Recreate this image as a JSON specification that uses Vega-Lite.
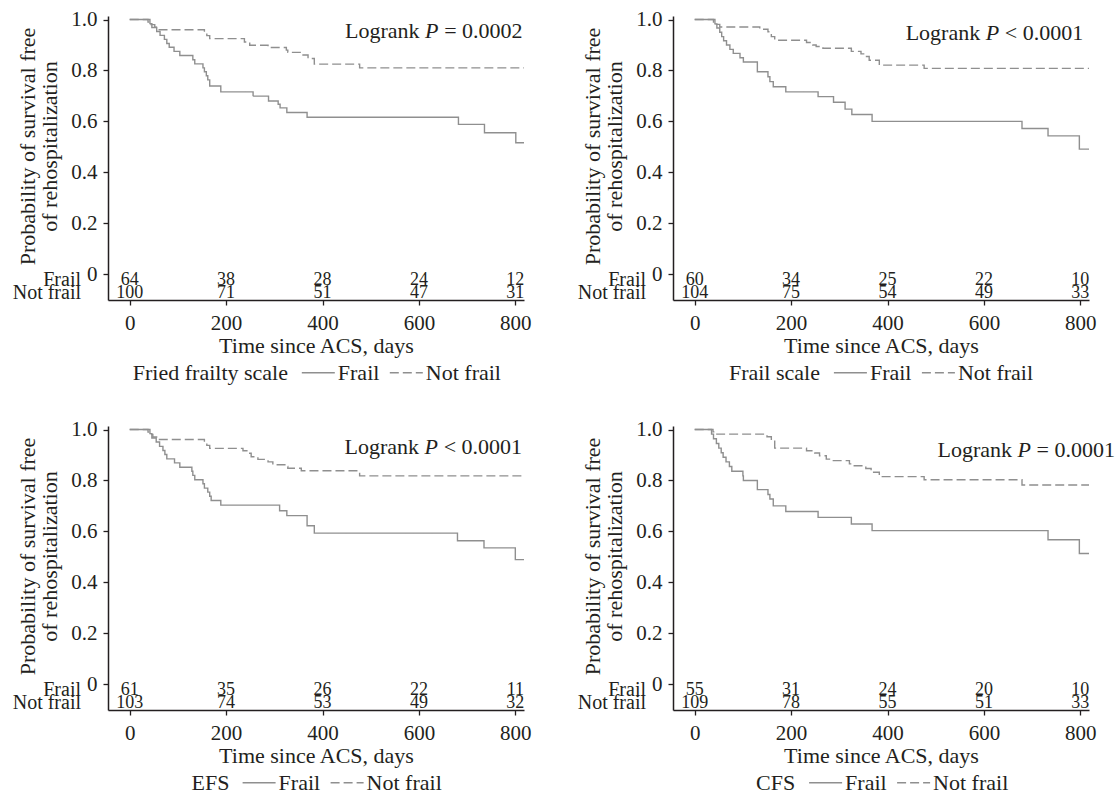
{
 "$schema": "https://vega.github.io/schema/vega-lite/v6.json",
 "autosize": {"type": "none"},
 "padding": {"left": 108, "top": 16, "right": 1012, "bottom": 783},
 "background": "white",
 "config": {
  "font": "Liberation Serif",
  "view": {"stroke": null},
  "axis": {"domainColor": "#231f20", "domainWidth": 1.5, "tickColor": "#231f20", "tickWidth": 1.3, "tickSize": 5, "labelColor": "#231f20", "labelFontSize": 21, "labelFont": "Liberation Serif", "titleColor": "#231f20", "titleFontSize": 22, "titleFont": "Liberation Serif", "titleFontWeight": "normal", "grid": false, "labelFlush": false, "labelOverlap": false},
  "legend": {"labelFontSize": 22, "titleFontSize": 22, "labelFont": "Liberation Serif", "titleFont": "Liberation Serif", "titleFontWeight": "normal", "labelColor": "#231f20", "titleColor": "#231f20", "symbolType": "stroke", "symbolSize": 1089, "symbolStrokeWidth": 1.3, "symbolStrokeColor": "#8f8f8f", "labelOffset": 2, "columnPadding": 7, "titlePadding": 12, "titleOrient": "left", "direction": "horizontal", "titleAnchor": "middle", "titleBaseline": "line-top", "titleLineHeight": 9.2, "titleLimit": 400, "labelLimit": 300},
  "text": {"color": "#231f20", "font": "Liberation Serif"}
 },
 "datasets": {
  "km": [
   {"p":1,"g":"Frail","t":0,"s":1},{"p":1,"g":"Frail","t":42,"s":0.984},{"p":1,"g":"Frail","t":46,"s":0.969},{"p":1,"g":"Frail","t":56,"s":0.953},{"p":1,"g":"Frail","t":63,"s":0.938},{"p":1,"g":"Frail","t":72,"s":0.922},{"p":1,"g":"Frail","t":77,"s":0.906},{"p":1,"g":"Frail","t":82,"s":0.891},{"p":1,"g":"Frail","t":92,"s":0.875},{"p":1,"g":"Frail","t":104,"s":0.859},{"p":1,"g":"Frail","t":131,"s":0.842},{"p":1,"g":"Frail","t":135,"s":0.826},{"p":1,"g":"Frail","t":152,"s":0.81},{"p":1,"g":"Frail","t":155,"s":0.795},{"p":1,"g":"Frail","t":159,"s":0.779},{"p":1,"g":"Frail","t":162,"s":0.763},{"p":1,"g":"Frail","t":166,"s":0.739},{"p":1,"g":"Frail","t":189,"s":0.716},{"p":1,"g":"Frail","t":256,"s":0.699},{"p":1,"g":"Frail","t":288,"s":0.68},{"p":1,"g":"Frail","t":308,"s":0.667},{"p":1,"g":"Frail","t":312,"s":0.653},{"p":1,"g":"Frail","t":326,"s":0.635},{"p":1,"g":"Frail","t":368,"s":0.616},{"p":1,"g":"Frail","t":682,"s":0.588},{"p":1,"g":"Frail","t":736,"s":0.555},{"p":1,"g":"Frail","t":801,"s":0.516},{"p":1,"g":"Frail","t":818,"s":0.516},
   {"p":1,"g":"Not frail","t":0,"s":1},{"p":1,"g":"Not frail","t":38,"s":0.99},{"p":1,"g":"Not frail","t":44,"s":0.98},{"p":1,"g":"Not frail","t":52,"s":0.97},{"p":1,"g":"Not frail","t":59,"s":0.96},{"p":1,"g":"Not frail","t":155,"s":0.948},{"p":1,"g":"Not frail","t":160,"s":0.937},{"p":1,"g":"Not frail","t":166,"s":0.925},{"p":1,"g":"Not frail","t":238,"s":0.912},{"p":1,"g":"Not frail","t":249,"s":0.899},{"p":1,"g":"Not frail","t":287,"s":0.89},{"p":1,"g":"Not frail","t":325,"s":0.88},{"p":1,"g":"Not frail","t":328,"s":0.871},{"p":1,"g":"Not frail","t":356,"s":0.861},{"p":1,"g":"Not frail","t":370,"s":0.847},{"p":1,"g":"Not frail","t":383,"s":0.825},{"p":1,"g":"Not frail","t":477,"s":0.81},{"p":1,"g":"Not frail","t":818,"s":0.81},
   {"p":2,"g":"Frail","t":0,"s":1},{"p":2,"g":"Frail","t":42,"s":0.983},{"p":2,"g":"Frail","t":46,"s":0.967},{"p":2,"g":"Frail","t":52,"s":0.95},{"p":2,"g":"Frail","t":56,"s":0.933},{"p":2,"g":"Frail","t":60,"s":0.917},{"p":2,"g":"Frail","t":66,"s":0.9},{"p":2,"g":"Frail","t":73,"s":0.883},{"p":2,"g":"Frail","t":80,"s":0.867},{"p":2,"g":"Frail","t":94,"s":0.85},{"p":2,"g":"Frail","t":101,"s":0.833},{"p":2,"g":"Frail","t":130,"s":0.795},{"p":2,"g":"Frail","t":152,"s":0.775},{"p":2,"g":"Frail","t":156,"s":0.756},{"p":2,"g":"Frail","t":163,"s":0.736},{"p":2,"g":"Frail","t":189,"s":0.716},{"p":2,"g":"Frail","t":256,"s":0.697},{"p":2,"g":"Frail","t":288,"s":0.675},{"p":2,"g":"Frail","t":312,"s":0.648},{"p":2,"g":"Frail","t":326,"s":0.627},{"p":2,"g":"Frail","t":368,"s":0.6},{"p":2,"g":"Frail","t":679,"s":0.572},{"p":2,"g":"Frail","t":733,"s":0.543},{"p":2,"g":"Frail","t":798,"s":0.491},{"p":2,"g":"Frail","t":818,"s":0.491},
   {"p":2,"g":"Not frail","t":0,"s":1},{"p":2,"g":"Not frail","t":39,"s":0.99},{"p":2,"g":"Not frail","t":45,"s":0.981},{"p":2,"g":"Not frail","t":52,"s":0.971},{"p":2,"g":"Not frail","t":135,"s":0.962},{"p":2,"g":"Not frail","t":152,"s":0.952},{"p":2,"g":"Not frail","t":159,"s":0.933},{"p":2,"g":"Not frail","t":166,"s":0.919},{"p":2,"g":"Not frail","t":232,"s":0.91},{"p":2,"g":"Not frail","t":245,"s":0.9},{"p":2,"g":"Not frail","t":252,"s":0.894},{"p":2,"g":"Not frail","t":266,"s":0.887},{"p":2,"g":"Not frail","t":325,"s":0.875},{"p":2,"g":"Not frail","t":345,"s":0.865},{"p":2,"g":"Not frail","t":352,"s":0.855},{"p":2,"g":"Not frail","t":362,"s":0.84},{"p":2,"g":"Not frail","t":383,"s":0.821},{"p":2,"g":"Not frail","t":476,"s":0.808},{"p":2,"g":"Not frail","t":818,"s":0.808},
   {"p":3,"g":"Frail","t":0,"s":1},{"p":3,"g":"Frail","t":42,"s":0.984},{"p":3,"g":"Frail","t":46,"s":0.967},{"p":3,"g":"Frail","t":55,"s":0.951},{"p":3,"g":"Frail","t":62,"s":0.934},{"p":3,"g":"Frail","t":69,"s":0.918},{"p":3,"g":"Frail","t":73,"s":0.902},{"p":3,"g":"Frail","t":77,"s":0.885},{"p":3,"g":"Frail","t":93,"s":0.869},{"p":3,"g":"Frail","t":104,"s":0.852},{"p":3,"g":"Frail","t":129,"s":0.836},{"p":3,"g":"Frail","t":131,"s":0.82},{"p":3,"g":"Frail","t":135,"s":0.803},{"p":3,"g":"Frail","t":152,"s":0.787},{"p":3,"g":"Frail","t":155,"s":0.77},{"p":3,"g":"Frail","t":162,"s":0.754},{"p":3,"g":"Frail","t":166,"s":0.738},{"p":3,"g":"Frail","t":169,"s":0.721},{"p":3,"g":"Frail","t":189,"s":0.703},{"p":3,"g":"Frail","t":311,"s":0.681},{"p":3,"g":"Frail","t":326,"s":0.662},{"p":3,"g":"Frail","t":368,"s":0.622},{"p":3,"g":"Frail","t":383,"s":0.593},{"p":3,"g":"Frail","t":680,"s":0.563},{"p":3,"g":"Frail","t":735,"s":0.535},{"p":3,"g":"Frail","t":800,"s":0.489},{"p":3,"g":"Frail","t":818,"s":0.489},
   {"p":3,"g":"Not frail","t":0,"s":1},{"p":3,"g":"Not frail","t":38,"s":0.99},{"p":3,"g":"Not frail","t":42,"s":0.981},{"p":3,"g":"Not frail","t":48,"s":0.971},{"p":3,"g":"Not frail","t":59,"s":0.961},{"p":3,"g":"Not frail","t":155,"s":0.951},{"p":3,"g":"Not frail","t":160,"s":0.938},{"p":3,"g":"Not frail","t":166,"s":0.926},{"p":3,"g":"Not frail","t":235,"s":0.917},{"p":3,"g":"Not frail","t":245,"s":0.907},{"p":3,"g":"Not frail","t":252,"s":0.893},{"p":3,"g":"Not frail","t":266,"s":0.883},{"p":3,"g":"Not frail","t":287,"s":0.873},{"p":3,"g":"Not frail","t":297,"s":0.862},{"p":3,"g":"Not frail","t":325,"s":0.855},{"p":3,"g":"Not frail","t":328,"s":0.848},{"p":3,"g":"Not frail","t":356,"s":0.838},{"p":3,"g":"Not frail","t":477,"s":0.818},{"p":3,"g":"Not frail","t":818,"s":0.818},
   {"p":4,"g":"Frail","t":0,"s":1},{"p":4,"g":"Frail","t":35,"s":0.982},{"p":4,"g":"Frail","t":39,"s":0.964},{"p":4,"g":"Frail","t":45,"s":0.945},{"p":4,"g":"Frail","t":50,"s":0.927},{"p":4,"g":"Frail","t":55,"s":0.909},{"p":4,"g":"Frail","t":59,"s":0.891},{"p":4,"g":"Frail","t":65,"s":0.873},{"p":4,"g":"Frail","t":72,"s":0.855},{"p":4,"g":"Frail","t":77,"s":0.836},{"p":4,"g":"Frail","t":100,"s":0.818},{"p":4,"g":"Frail","t":101,"s":0.8},{"p":4,"g":"Frail","t":130,"s":0.764},{"p":4,"g":"Frail","t":152,"s":0.745},{"p":4,"g":"Frail","t":156,"s":0.727},{"p":4,"g":"Frail","t":163,"s":0.7},{"p":4,"g":"Frail","t":189,"s":0.678},{"p":4,"g":"Frail","t":256,"s":0.655},{"p":4,"g":"Frail","t":325,"s":0.629},{"p":4,"g":"Frail","t":368,"s":0.603},{"p":4,"g":"Frail","t":733,"s":0.567},{"p":4,"g":"Frail","t":798,"s":0.513},{"p":4,"g":"Frail","t":818,"s":0.513},
   {"p":4,"g":"Not frail","t":0,"s":1},{"p":4,"g":"Not frail","t":38,"s":0.991},{"p":4,"g":"Not frail","t":46,"s":0.982},{"p":4,"g":"Not frail","t":150,"s":0.972},{"p":4,"g":"Not frail","t":159,"s":0.954},{"p":4,"g":"Not frail","t":166,"s":0.927},{"p":4,"g":"Not frail","t":232,"s":0.917},{"p":4,"g":"Not frail","t":249,"s":0.908},{"p":4,"g":"Not frail","t":259,"s":0.897},{"p":4,"g":"Not frail","t":273,"s":0.884},{"p":4,"g":"Not frail","t":286,"s":0.878},{"p":4,"g":"Not frail","t":321,"s":0.865},{"p":4,"g":"Not frail","t":328,"s":0.858},{"p":4,"g":"Not frail","t":355,"s":0.847},{"p":4,"g":"Not frail","t":366,"s":0.832},{"p":4,"g":"Not frail","t":383,"s":0.815},{"p":4,"g":"Not frail","t":476,"s":0.803},{"p":4,"g":"Not frail","t":679,"s":0.782},{"p":4,"g":"Not frail","t":818,"s":0.782}
  ],
  "risk": [
   {"p":1,"g":"Frail","t":0,"n":64},{"p":1,"g":"Frail","t":200,"n":38},{"p":1,"g":"Frail","t":400,"n":28},{"p":1,"g":"Frail","t":600,"n":24},{"p":1,"g":"Frail","t":800,"n":12},
   {"p":1,"g":"Not frail","t":0,"n":100},{"p":1,"g":"Not frail","t":200,"n":71},{"p":1,"g":"Not frail","t":400,"n":51},{"p":1,"g":"Not frail","t":600,"n":47},{"p":1,"g":"Not frail","t":800,"n":31},
   {"p":2,"g":"Frail","t":0,"n":60},{"p":2,"g":"Frail","t":200,"n":34},{"p":2,"g":"Frail","t":400,"n":25},{"p":2,"g":"Frail","t":600,"n":22},{"p":2,"g":"Frail","t":800,"n":10},
   {"p":2,"g":"Not frail","t":0,"n":104},{"p":2,"g":"Not frail","t":200,"n":75},{"p":2,"g":"Not frail","t":400,"n":54},{"p":2,"g":"Not frail","t":600,"n":49},{"p":2,"g":"Not frail","t":800,"n":33},
   {"p":3,"g":"Frail","t":0,"n":61},{"p":3,"g":"Frail","t":200,"n":35},{"p":3,"g":"Frail","t":400,"n":26},{"p":3,"g":"Frail","t":600,"n":22},{"p":3,"g":"Frail","t":800,"n":11},
   {"p":3,"g":"Not frail","t":0,"n":103},{"p":3,"g":"Not frail","t":200,"n":74},{"p":3,"g":"Not frail","t":400,"n":53},{"p":3,"g":"Not frail","t":600,"n":49},{"p":3,"g":"Not frail","t":800,"n":32},
   {"p":4,"g":"Frail","t":0,"n":55},{"p":4,"g":"Frail","t":200,"n":31},{"p":4,"g":"Frail","t":400,"n":24},{"p":4,"g":"Frail","t":600,"n":20},{"p":4,"g":"Frail","t":800,"n":10},
   {"p":4,"g":"Not frail","t":0,"n":109},{"p":4,"g":"Not frail","t":200,"n":78},{"p":4,"g":"Not frail","t":400,"n":55},{"p":4,"g":"Not frail","t":600,"n":51},{"p":4,"g":"Not frail","t":800,"n":33}
  ],
  "lr": [
   {"p":1,"a":"Logrank","b":"P","c":"= 0.0002"},
   {"p":2,"a":"Logrank","b":"P","c":"< 0.0001"},
   {"p":3,"a":"Logrank","b":"P","c":"< 0.0001"},
   {"p":4,"a":"Logrank","b":"P","c":"= 0.0001"}
  ]
 },
 "columns": 2,
 "spacing": {"row": 126, "column": 149},
 "bounds": "flush",
 "resolve": {"scale": {"strokeDash": "independent", "x": "independent", "y": "independent"}, "legend": {"strokeDash": "independent"}},
 "concat": [
  {
   "width": 416, "height": 284,
   "layer": [
    {"data": {"name": "km"}, "transform": [{"filter": "datum.p == 1"}],
     "mark": {"type": "line", "interpolate": "step-after", "strokeWidth": 1.4, "color": "#8f8f8f"},
     "encoding": {
      "x": {"field": "t", "type": "quantitative", "scale": {"domain": [-45, 818], "nice": false, "zero": false}, "axis": {"title": "Time since ACS, days", "values": [0, 200, 400, 600, 800], "labelPadding": 7, "titleBaseline": "alphabetic", "titleY": 52.8}},
      "y": {"field": "s", "type": "quantitative", "scale": {"domain": [-0.102, 1.014], "nice": false, "zero": false}, "axis": {"title": ["Probability of survival free", "of rehospitalization"], "values": [0, 0.2, 0.4, 0.6, 0.8, 1], "labelExpr": "datum.value == 0 ? '0' : format(datum.value, '.1f')", "labelPadding": 6, "titleBaseline": "alphabetic", "titleAlign": "center", "titleX": -74, "titleY": 130, "titleLineHeight": 22.4}},
      "strokeDash": {"field": "g", "type": "nominal", "scale": {"domain": ["Frail", "Not frail"], "range": [[1, 0], [9, 4]]}, "legend": {"title": "Fried frailty scale", "orient": "none", "legendX": 24.8, "legendY": 339}}
     }},
    {"data": {"name": "risk"}, "transform": [{"filter": "datum.p == 1 && datum.g == 'Frail'"}],
     "mark": {"type": "text", "fontSize": 18, "baseline": "middle"},
     "encoding": {"x": {"field": "t", "type": "quantitative"}, "y": {"datum": -0.023, "type": "quantitative"}, "text": {"field": "n"}}},
    {"data": {"name": "risk"}, "transform": [{"filter": "datum.p == 1 && datum.g == 'Not frail'"}],
     "mark": {"type": "text", "fontSize": 18, "baseline": "middle"},
     "encoding": {"x": {"field": "t", "type": "quantitative"}, "y": {"datum": -0.076, "type": "quantitative"}, "text": {"field": "n"}}},
    {"data": {"name": "risk"}, "transform": [{"filter": "datum.p == 1 && datum.t == 0 && datum.g == 'Frail'"}],
     "mark": {"type": "text", "fontSize": 20, "baseline": "middle", "align": "right", "dx": -27},
     "encoding": {"x": {"datum": -45, "type": "quantitative"}, "y": {"datum": -0.023, "type": "quantitative"}, "text": {"field": "g"}}},
    {"data": {"name": "risk"}, "transform": [{"filter": "datum.p == 1 && datum.t == 0 && datum.g == 'Not frail'"}],
     "mark": {"type": "text", "fontSize": 20, "baseline": "middle", "align": "right", "dx": -27},
     "encoding": {"x": {"datum": -45, "type": "quantitative"}, "y": {"datum": -0.076, "type": "quantitative"}, "text": {"field": "g"}}},
    {"data": {"name": "lr"}, "transform": [{"filter": "datum.p == 1"}],
     "mark": {"type": "text", "fontSize": 22, "baseline": "middle", "align": "right"},
     "encoding": {"x": {"datum": 815, "type": "quantitative"}, "y": {"datum": 0.956, "type": "quantitative"}, "text": {"field": "c"}}},
    {"data": {"name": "lr"}, "transform": [{"filter": "datum.p == 1"}],
     "mark": {"type": "text", "fontSize": 22, "baseline": "middle", "align": "right", "fontStyle": "italic", "dx": -84},
     "encoding": {"x": {"datum": 815, "type": "quantitative"}, "y": {"datum": 0.956, "type": "quantitative"}, "text": {"field": "b"}}},
    {"data": {"name": "lr"}, "transform": [{"filter": "datum.p == 1"}],
     "mark": {"type": "text", "fontSize": 22, "baseline": "middle", "align": "right", "dx": -103},
     "encoding": {"x": {"datum": 815, "type": "quantitative"}, "y": {"datum": 0.956, "type": "quantitative"}, "text": {"field": "a"}}}
   ]
  },
  {
   "width": 416, "height": 284,
   "layer": [
    {"data": {"name": "km"}, "transform": [{"filter": "datum.p == 2"}],
     "mark": {"type": "line", "interpolate": "step-after", "strokeWidth": 1.4, "color": "#8f8f8f"},
     "encoding": {
      "x": {"field": "t", "type": "quantitative", "scale": {"domain": [-45, 818], "nice": false, "zero": false}, "axis": {"title": "Time since ACS, days", "values": [0, 200, 400, 600, 800], "labelPadding": 7, "titleBaseline": "alphabetic", "titleY": 52.8}},
      "y": {"field": "s", "type": "quantitative", "scale": {"domain": [-0.102, 1.014], "nice": false, "zero": false}, "axis": {"title": ["Probability of survival free", "of rehospitalization"], "values": [0, 0.2, 0.4, 0.6, 0.8, 1], "labelExpr": "datum.value == 0 ? '0' : format(datum.value, '.1f')", "labelPadding": 6, "titleBaseline": "alphabetic", "titleAlign": "center", "titleX": -74, "titleY": 130, "titleLineHeight": 22.4}},
      "strokeDash": {"field": "g", "type": "nominal", "scale": {"domain": ["Frail", "Not frail"], "range": [[1, 0], [9, 4]]}, "legend": {"title": "Frail scale", "orient": "none", "legendX": 55.9, "legendY": 339}}
     }},
    {"data": {"name": "risk"}, "transform": [{"filter": "datum.p == 2 && datum.g == 'Frail'"}],
     "mark": {"type": "text", "fontSize": 18, "baseline": "middle"},
     "encoding": {"x": {"field": "t", "type": "quantitative"}, "y": {"datum": -0.023, "type": "quantitative"}, "text": {"field": "n"}}},
    {"data": {"name": "risk"}, "transform": [{"filter": "datum.p == 2 && datum.g == 'Not frail'"}],
     "mark": {"type": "text", "fontSize": 18, "baseline": "middle"},
     "encoding": {"x": {"field": "t", "type": "quantitative"}, "y": {"datum": -0.076, "type": "quantitative"}, "text": {"field": "n"}}},
    {"data": {"name": "risk"}, "transform": [{"filter": "datum.p == 2 && datum.t == 0 && datum.g == 'Frail'"}],
     "mark": {"type": "text", "fontSize": 20, "baseline": "middle", "align": "right", "dx": -27},
     "encoding": {"x": {"datum": -45, "type": "quantitative"}, "y": {"datum": -0.023, "type": "quantitative"}, "text": {"field": "g"}}},
    {"data": {"name": "risk"}, "transform": [{"filter": "datum.p == 2 && datum.t == 0 && datum.g == 'Not frail'"}],
     "mark": {"type": "text", "fontSize": 20, "baseline": "middle", "align": "right", "dx": -27},
     "encoding": {"x": {"datum": -45, "type": "quantitative"}, "y": {"datum": -0.076, "type": "quantitative"}, "text": {"field": "g"}}},
    {"data": {"name": "lr"}, "transform": [{"filter": "datum.p == 2"}],
     "mark": {"type": "text", "fontSize": 22, "baseline": "middle", "align": "right"},
     "encoding": {"x": {"datum": 806, "type": "quantitative"}, "y": {"datum": 0.946, "type": "quantitative"}, "text": {"field": "c"}}},
    {"data": {"name": "lr"}, "transform": [{"filter": "datum.p == 2"}],
     "mark": {"type": "text", "fontSize": 22, "baseline": "middle", "align": "right", "fontStyle": "italic", "dx": -84},
     "encoding": {"x": {"datum": 806, "type": "quantitative"}, "y": {"datum": 0.946, "type": "quantitative"}, "text": {"field": "b"}}},
    {"data": {"name": "lr"}, "transform": [{"filter": "datum.p == 2"}],
     "mark": {"type": "text", "fontSize": 22, "baseline": "middle", "align": "right", "dx": -103},
     "encoding": {"x": {"datum": 806, "type": "quantitative"}, "y": {"datum": 0.946, "type": "quantitative"}, "text": {"field": "a"}}}
   ]
  },
  {
   "width": 416, "height": 284,
   "layer": [
    {"data": {"name": "km"}, "transform": [{"filter": "datum.p == 3"}],
     "mark": {"type": "line", "interpolate": "step-after", "strokeWidth": 1.4, "color": "#8f8f8f"},
     "encoding": {
      "x": {"field": "t", "type": "quantitative", "scale": {"domain": [-45, 818], "nice": false, "zero": false}, "axis": {"title": "Time since ACS, days", "values": [0, 200, 400, 600, 800], "labelPadding": 7, "titleBaseline": "alphabetic", "titleY": 52.8}},
      "y": {"field": "s", "type": "quantitative", "scale": {"domain": [-0.102, 1.014], "nice": false, "zero": false}, "axis": {"title": ["Probability of survival free", "of rehospitalization"], "values": [0, 0.2, 0.4, 0.6, 0.8, 1], "labelExpr": "datum.value == 0 ? '0' : format(datum.value, '.1f')", "labelPadding": 6, "titleBaseline": "alphabetic", "titleAlign": "center", "titleX": -74, "titleY": 130, "titleLineHeight": 22.4}},
      "strokeDash": {"field": "g", "type": "nominal", "scale": {"domain": ["Frail", "Not frail"], "range": [[1, 0], [9, 4]]}, "legend": {"title": "EFS", "orient": "none", "legendX": 83.6, "legendY": 339}}
     }},
    {"data": {"name": "risk"}, "transform": [{"filter": "datum.p == 3 && datum.g == 'Frail'"}],
     "mark": {"type": "text", "fontSize": 18, "baseline": "middle"},
     "encoding": {"x": {"field": "t", "type": "quantitative"}, "y": {"datum": -0.023, "type": "quantitative"}, "text": {"field": "n"}}},
    {"data": {"name": "risk"}, "transform": [{"filter": "datum.p == 3 && datum.g == 'Not frail'"}],
     "mark": {"type": "text", "fontSize": 18, "baseline": "middle"},
     "encoding": {"x": {"field": "t", "type": "quantitative"}, "y": {"datum": -0.076, "type": "quantitative"}, "text": {"field": "n"}}},
    {"data": {"name": "risk"}, "transform": [{"filter": "datum.p == 3 && datum.t == 0 && datum.g == 'Frail'"}],
     "mark": {"type": "text", "fontSize": 20, "baseline": "middle", "align": "right", "dx": -27},
     "encoding": {"x": {"datum": -45, "type": "quantitative"}, "y": {"datum": -0.023, "type": "quantitative"}, "text": {"field": "g"}}},
    {"data": {"name": "risk"}, "transform": [{"filter": "datum.p == 3 && datum.t == 0 && datum.g == 'Not frail'"}],
     "mark": {"type": "text", "fontSize": 20, "baseline": "middle", "align": "right", "dx": -27},
     "encoding": {"x": {"datum": -45, "type": "quantitative"}, "y": {"datum": -0.076, "type": "quantitative"}, "text": {"field": "g"}}},
    {"data": {"name": "lr"}, "transform": [{"filter": "datum.p == 3"}],
     "mark": {"type": "text", "fontSize": 22, "baseline": "middle", "align": "right"},
     "encoding": {"x": {"datum": 814, "type": "quantitative"}, "y": {"datum": 0.931, "type": "quantitative"}, "text": {"field": "c"}}},
    {"data": {"name": "lr"}, "transform": [{"filter": "datum.p == 3"}],
     "mark": {"type": "text", "fontSize": 22, "baseline": "middle", "align": "right", "fontStyle": "italic", "dx": -84},
     "encoding": {"x": {"datum": 814, "type": "quantitative"}, "y": {"datum": 0.931, "type": "quantitative"}, "text": {"field": "b"}}},
    {"data": {"name": "lr"}, "transform": [{"filter": "datum.p == 3"}],
     "mark": {"type": "text", "fontSize": 22, "baseline": "middle", "align": "right", "dx": -103},
     "encoding": {"x": {"datum": 814, "type": "quantitative"}, "y": {"datum": 0.931, "type": "quantitative"}, "text": {"field": "a"}}}
   ]
  },
  {
   "width": 416, "height": 284,
   "layer": [
    {"data": {"name": "km"}, "transform": [{"filter": "datum.p == 4"}],
     "mark": {"type": "line", "interpolate": "step-after", "strokeWidth": 1.4, "color": "#8f8f8f"},
     "encoding": {
      "x": {"field": "t", "type": "quantitative", "scale": {"domain": [-45, 818], "nice": false, "zero": false}, "axis": {"title": "Time since ACS, days", "values": [0, 200, 400, 600, 800], "labelPadding": 7, "titleBaseline": "alphabetic", "titleY": 52.8}},
      "y": {"field": "s", "type": "quantitative", "scale": {"domain": [-0.102, 1.014], "nice": false, "zero": false}, "axis": {"title": ["Probability of survival free", "of rehospitalization"], "values": [0, 0.2, 0.4, 0.6, 0.8, 1], "labelExpr": "datum.value == 0 ? '0' : format(datum.value, '.1f')", "labelPadding": 6, "titleBaseline": "alphabetic", "titleAlign": "center", "titleX": -74, "titleY": 130, "titleLineHeight": 22.4}},
      "strokeDash": {"field": "g", "type": "nominal", "scale": {"domain": ["Frail", "Not frail"], "range": [[1, 0], [9, 4]]}, "legend": {"title": "CFS", "orient": "none", "legendX": 83.1, "legendY": 339}}
     }},
    {"data": {"name": "risk"}, "transform": [{"filter": "datum.p == 4 && datum.g == 'Frail'"}],
     "mark": {"type": "text", "fontSize": 18, "baseline": "middle"},
     "encoding": {"x": {"field": "t", "type": "quantitative"}, "y": {"datum": -0.023, "type": "quantitative"}, "text": {"field": "n"}}},
    {"data": {"name": "risk"}, "transform": [{"filter": "datum.p == 4 && datum.g == 'Not frail'"}],
     "mark": {"type": "text", "fontSize": 18, "baseline": "middle"},
     "encoding": {"x": {"field": "t", "type": "quantitative"}, "y": {"datum": -0.076, "type": "quantitative"}, "text": {"field": "n"}}},
    {"data": {"name": "risk"}, "transform": [{"filter": "datum.p == 4 && datum.t == 0 && datum.g == 'Frail'"}],
     "mark": {"type": "text", "fontSize": 20, "baseline": "middle", "align": "right", "dx": -27},
     "encoding": {"x": {"datum": -45, "type": "quantitative"}, "y": {"datum": -0.023, "type": "quantitative"}, "text": {"field": "g"}}},
    {"data": {"name": "risk"}, "transform": [{"filter": "datum.p == 4 && datum.t == 0 && datum.g == 'Not frail'"}],
     "mark": {"type": "text", "fontSize": 20, "baseline": "middle", "align": "right", "dx": -27},
     "encoding": {"x": {"datum": -45, "type": "quantitative"}, "y": {"datum": -0.076, "type": "quantitative"}, "text": {"field": "g"}}},
    {"data": {"name": "lr"}, "transform": [{"filter": "datum.p == 4"}],
     "mark": {"type": "text", "fontSize": 22, "baseline": "middle", "align": "right"},
     "encoding": {"x": {"datum": 872, "type": "quantitative"}, "y": {"datum": 0.918, "type": "quantitative"}, "text": {"field": "c"}}},
    {"data": {"name": "lr"}, "transform": [{"filter": "datum.p == 4"}],
     "mark": {"type": "text", "fontSize": 22, "baseline": "middle", "align": "right", "fontStyle": "italic", "dx": -84},
     "encoding": {"x": {"datum": 872, "type": "quantitative"}, "y": {"datum": 0.918, "type": "quantitative"}, "text": {"field": "b"}}},
    {"data": {"name": "lr"}, "transform": [{"filter": "datum.p == 4"}],
     "mark": {"type": "text", "fontSize": 22, "baseline": "middle", "align": "right", "dx": -103},
     "encoding": {"x": {"datum": 872, "type": "quantitative"}, "y": {"datum": 0.918, "type": "quantitative"}, "text": {"field": "a"}}}
   ]
  }
 ]
}
